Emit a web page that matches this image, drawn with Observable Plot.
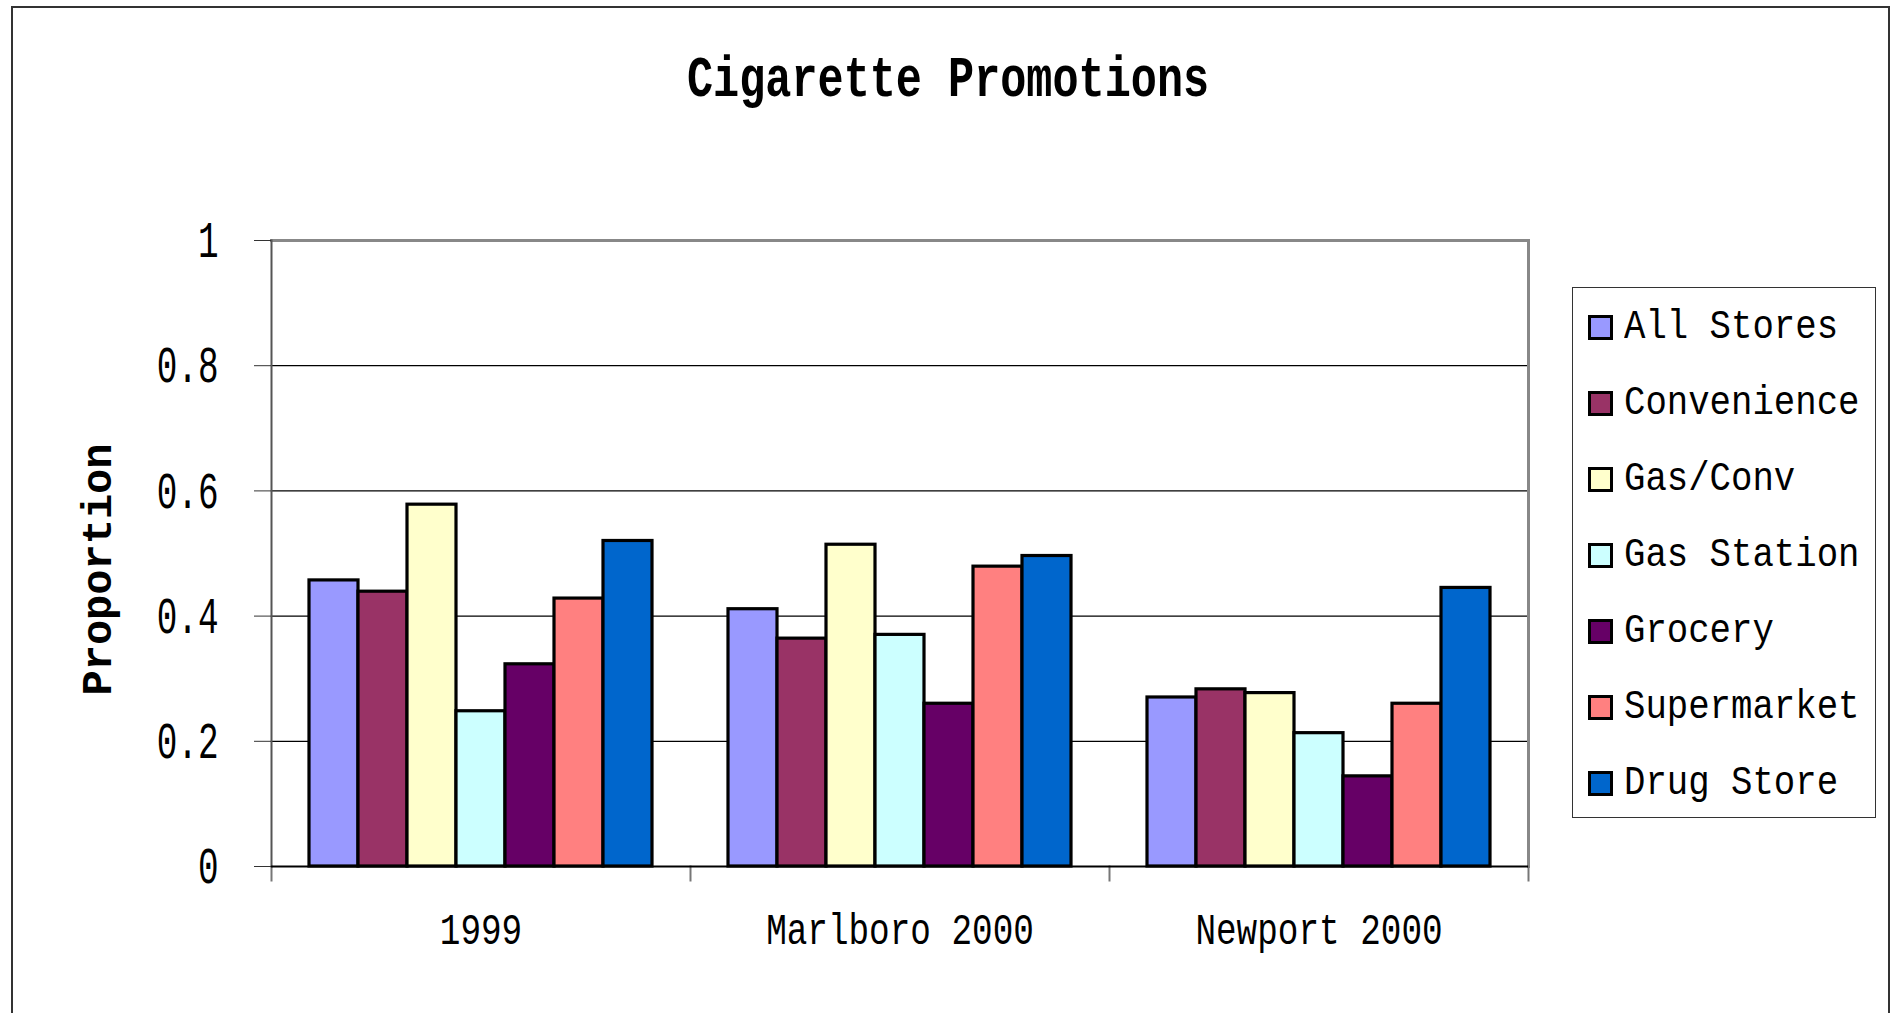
<!DOCTYPE html>
<html>
<head>
<meta charset="utf-8">
<script src="https://cdn.jsdelivr.net/npm/d3@7"></script>
<script src="https://cdn.jsdelivr.net/npm/@observablehq/plot@0.6"></script>
<style>
  html, body { margin: 0; padding: 0; background: #fff; overflow: hidden; }
  #page { position: relative; width: 1899px; height: 1013px; overflow: hidden; font-family: "Liberation Mono", monospace; }
  #outer { position: absolute; left: 11px; top: 6px; width: 1879px; height: 1100px; border: 2.5px solid #333; box-sizing: border-box; }
  #title { position: absolute; left: 0; width: 1899px; top: 52px; height: 60px; line-height: 58px; text-align: center; }
  #title span { display: inline-block; font-weight: bold; font-size: 58px; transform: scaleX(0.75); transform-origin: center; margin-left: -3px; white-space: nowrap; }
  #chart { position: absolute; left: 0; top: 140px; }
  #legend { position: absolute; left: 1572px; top: 287px; width: 304px; height: 531px; border: 1.5px solid #333; box-sizing: border-box; background: #fff; }
  .item { position: absolute; left: 15px; height: 30px; display: flex; align-items: center; }
  .sw { width: 19px; height: 19px; border: 3px solid #000; flex: none; }
  .lab { display: inline-block; margin-left: 11px; font-size: 41px; line-height: 30px; white-space: nowrap; transform: scaleX(0.87); transform-origin: left center; }
</style>
</head>
<body>
<div id="page">
  <div id="outer"></div>
  <div id="title"><span></span></div>
  <div id="chart"></div>
  <div id="legend"></div>
</div>
<script>
// ---- data ----
const titleText = "Cigarette Promotions";
const yLabel = "Proportion";
const groups = ["1999", "Marlboro 2000", "Newport 2000"];
const stores = ["All Stores", "Convenience", "Gas/Conv", "Gas Station", "Grocery", "Supermarket", "Drug Store"];
const colors = ["#9999FF", "#993366", "#FFFFCC", "#CCFFFF", "#660066", "#FF8080", "#0066CC"];
const values1999 = [0.457, 0.439, 0.578, 0.248, 0.323, 0.428, 0.520];
const valuesMarlboro2000 = [0.411, 0.364, 0.514, 0.370, 0.260, 0.479, 0.496];
const valuesNewport2000 = [0.270, 0.283, 0.277, 0.213, 0.144, 0.260, 0.445];
const yTicks = [0, 0.2, 0.4, 0.6, 0.8, 1];
const gridTicks = [0.2, 0.4, 0.6, 0.8];

const seriesByGroup = [values1999, valuesMarlboro2000, valuesNewport2000];
const data = [];
groups.forEach((g, gi) => stores.forEach((s, si) => data.push({group: g, store: s, value: seriesByGroup[gi][si]})));

document.querySelector("#title span").textContent = titleText;

const W = 1899, H = 873, mT = 100, mB = 147, mL = 270, mR = 370;
const innerH = H - mT - mB;

const chart = Plot.plot({
  width: W, height: H,
  marginLeft: mL, marginRight: mR, marginTop: mT, marginBottom: mB,
  style: {fontFamily: "'Liberation Mono', monospace", background: "transparent", overflow: "visible", color: "#000"},
  fx: {domain: groups, padding: 0, axis: null},
  x: {domain: stores, paddingInner: 0, paddingOuter: 0.76, axis: null},
  y: {domain: [0, 1], axis: null},
  color: {domain: stores, range: colors},
  marks: [
    Plot.ruleY(gridTicks, {stroke: "#000", strokeWidth: 1.2}),
    Plot.barY(data, {fx: "group", x: "store", y: "value", fill: "store", stroke: "#000", strokeWidth: 3.2}),
    Plot.frame({anchor: "top", stroke: "#888", strokeWidth: 3}),
    Plot.frame({anchor: "right", facetAnchor: "right", stroke: "#888", strokeWidth: 3}),
    Plot.frame({anchor: "left", facetAnchor: "left", stroke: "#555", strokeWidth: 2}),
    Plot.frame({anchor: "left", insetTop: innerH, insetBottom: -14, stroke: "#777", strokeWidth: 2}),
    Plot.frame({anchor: "right", facetAnchor: "right", insetTop: innerH, insetBottom: -14, stroke: "#777", strokeWidth: 2}),
    Plot.ruleY([0], {stroke: "#000", strokeWidth: 2}),
    Plot.axisY({ticks: yTicks, tickSize: 17, tickPadding: 36, fontSize: 52, stroke: "#333", fill: "#000", label: null,
      tickFormat: d => String(d)}),
    Plot.axisFx({anchor: "bottom", tickSize: 0, tickPadding: 46, fontSize: 44, fill: "#000", label: null}),
    Plot.text([yLabel], {text: d => d, frameAnchor: "left", facetAnchor: "left", textAnchor: "middle", rotate: -90, dx: -174, dy: 16,
      fontSize: 42, fontWeight: "bold", fill: "#000"})
  ]
});
document.getElementById("chart").appendChild(chart);

function squeeze(sel, k) {
  chart.querySelectorAll(sel).forEach(t => {
    const L = t.getComputedTextLength();
    if (L > 0) {
      t.setAttribute("textLength", (L * k).toFixed(1));
      t.setAttribute("lengthAdjust", "spacingAndGlyphs");
    }
  });
}
squeeze('[aria-label="y-axis tick label"] text', 0.66);
squeeze('[aria-label="fx-axis tick label"] text', 0.78);

// legend
const legend = document.getElementById("legend");
stores.forEach((s, i) => {
  const it = document.createElement("div");
  it.className = "item";
  it.style.top = (24 + 76 * i) + "px";
  const sw = document.createElement("div");
  sw.className = "sw";
  sw.style.background = colors[i];
  const lab = document.createElement("span");
  lab.className = "lab";
  lab.textContent = s;
  it.appendChild(sw); it.appendChild(lab);
  legend.appendChild(it);
});
</script>
</body>
</html>
